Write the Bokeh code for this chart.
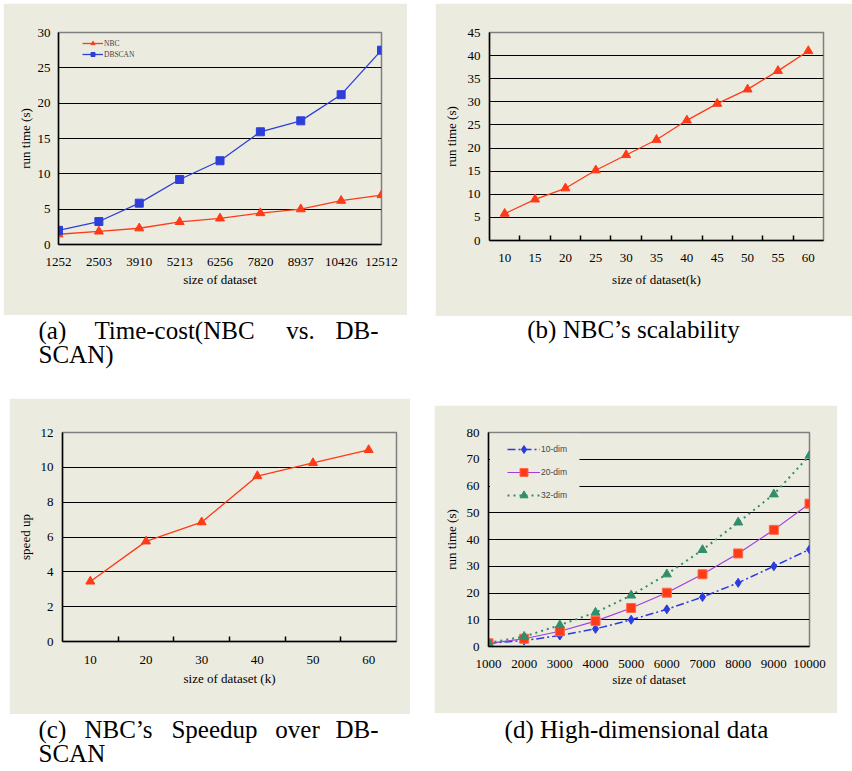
from bokeh.plotting import figure
from bokeh.models import Range1d, FixedTicker, Legend, LegendItem, BoxAnnotation
from bokeh.layouts import column, row
from bokeh.core.properties import value
from bokeh.embed import file_html
from bokeh.resources import INLINE

# ---------------- data ----------------
a_sizes = ["1252", "2503", "3910", "5213", "6256", "7820", "8937", "10426", "12512"]
a_nbc = [1.45, 1.85, 2.3, 3.2, 3.7, 4.45, 5.0, 6.2, 7.0]
a_dbscan = [2.0, 3.25, 5.85, 9.2, 11.85, 15.95, 17.5, 21.2, 27.5]
a_yticks = [0, 5, 10, 15, 20, 25, 30]

b_sizes = [10, 15, 20, 25, 30, 35, 40, 45, 50, 55, 60]
b_time = [5.8, 8.9, 11.3, 15.2, 18.5, 21.8, 26.0, 29.6, 32.7, 36.7, 41.0]
b_yticks = [0, 5, 10, 15, 20, 25, 30, 35, 40, 45]

c_sizes = [10, 20, 30, 40, 50, 60]
c_speedup = [3.45, 5.75, 6.85, 9.5, 10.25, 11.0]
c_yticks = [0, 2, 4, 6, 8, 10, 12]

d_sizes = [1000, 2000, 3000, 4000, 5000, 6000, 7000, 8000, 9000, 10000]
d_10dim = [1.2, 2.2, 4.1, 6.6, 10.0, 13.9, 18.5, 23.8, 30.0, 36.3]
d_20dim = [1.2, 2.9, 5.7, 9.5, 14.4, 20.1, 27.0, 34.8, 43.6, 53.4]
d_32dim = [1.4, 3.7, 8.0, 12.7, 19.1, 27.0, 36.1, 46.4, 56.9, 71.4]
d_yticks = [0, 10, 20, 30, 40, 50, 60, 70, 80]

# ---------------- styles ----------------
BG = "#ecebe0"
SERIF = "Liberation Serif"
RED = "#ff3a17"
BLUE = "#2d3fd8"
BLUE_D = "#2a3be0"
PURPLE = "#a43de0"
GREEN = "#2f8f6c"
CAP_SIZE = "25px"


def panel(w, h, xr, yr, mb, yticks, xlabel, ylabel, tick_std, lab_std, ytick_std, ylab_std):
    p = figure(width=w, height=h, x_range=xr, y_range=yr, output_backend="svg",
               toolbar_location=None, title=None, frame_align=False,
               min_border_left=mb[0], min_border_right=mb[1],
               min_border_top=mb[2], min_border_bottom=mb[3])
    p.border_fill_color = BG
    p.background_fill_color = BG
    p.outline_line_color = "#808080"
    p.outline_line_width = 1.5
    p.xgrid.visible = False
    p.yaxis.ticker = FixedTicker(ticks=yticks)
    p.ygrid.ticker = FixedTicker(ticks=yticks[1:-1])
    p.ygrid.grid_line_color = "black"
    p.ygrid.grid_line_width = 1.2
    for ax in p.axis:
        ax.axis_line_color = "black"
        ax.axis_line_width = 1.5
        ax.major_tick_in = 0
        ax.major_tick_out = 0
        ax.minor_tick_in = 0
        ax.minor_tick_out = 0
        ax.major_label_text_font = SERIF
        ax.major_label_text_font_size = "13px"
        ax.major_label_text_color = "black"
        ax.axis_label_text_font = SERIF
        ax.axis_label_text_font_size = "13px"
        ax.axis_label_text_font_style = "normal"
        ax.axis_label_text_color = "black"
    p.xaxis.axis_label = xlabel
    p.yaxis.axis_label = ylabel
    p.xaxis.major_label_standoff = tick_std
    p.xaxis.axis_label_standoff = lab_std
    p.yaxis.major_label_standoff = ytick_std
    p.yaxis.axis_label_standoff = ylab_std
    return p


def caption(w, h, xs, ys, texts, aligns):
    p = figure(width=w, height=h, x_range=Range1d(0, w), y_range=Range1d(h, 0),
               output_backend="svg", toolbar_location=None, title=None, frame_align=False,
               min_border=0, x_axis_location=None, y_axis_location=None)
    p.grid.visible = False
    p.outline_line_color = None
    p.border_fill_color = "white"
    p.background_fill_color = "white"
    for x, y, t, a in zip(xs, ys, texts, aligns):
        p.text(x=[x], y=[y], text=[t], text_align=a, text_baseline="middle",
               text_font=value(SERIF), text_font_size=CAP_SIZE, text_color="black")
    return p


# ---------------- (a) ----------------
a_x = list(range(len(a_sizes)))
fa = panel(404, 312, Range1d(0, len(a_sizes) - 1), Range1d(0, 30), (55, 26, 29, 71),
           a_yticks, "size of dataset", "run time (s)", 13, 3, 8, 2)
fa.xaxis.ticker = FixedTicker(ticks=a_x)
fa.xaxis.major_label_overrides = {i: s for i, s in zip(a_x, a_sizes)}
la1 = fa.line(a_x, a_nbc, line_color=RED, line_width=1.3)
sa1 = fa.scatter(a_x, a_nbc, marker="triangle", size=9, fill_color=RED, line_color=RED)
la2 = fa.line(a_x, a_dbscan, line_color=BLUE, line_width=1.3)
sa2 = fa.scatter(a_x, a_dbscan, marker="square", size=8, fill_color=BLUE, line_color=BLUE)
lega = Legend(items=[LegendItem(label="NBC", renderers=[la1, sa1]),
                     LegendItem(label="DBSCAN", renderers=[la2, sa2])],
              location=(24, 185), padding=0, margin=0, spacing=1,
              glyph_width=21, glyph_height=10, label_standoff=1,
              label_text_font="Liberation Sans Narrow", label_text_font_size="7.5px",
              border_line_alpha=0, background_fill_alpha=0)
fa.add_layout(lega)

# ---------------- (b) ----------------
fb = panel(417, 313, Range1d(7.5, 62.5), Range1d(0, 45), (54, 29, 29, 76),
           b_yticks, "size of dataset(k)", "run time (s)", 13, 7, 9, 6)
fb.xaxis.ticker = FixedTicker(ticks=b_sizes,
                              minor_ticks=[(b_sizes[i] + b_sizes[i + 1]) / 2 for i in range(len(b_sizes) - 1)])
fb.xaxis.minor_tick_in = 5
fb.xaxis.minor_tick_line_color = "black"
fb.xaxis.minor_tick_line_width = 1.5
fb.line(b_sizes, b_time, line_color=RED, line_width=1.3)
fb.scatter(b_sizes, b_time, marker="triangle", size=9, fill_color=RED, line_color=RED)

# ---------------- (c) ----------------
fc = panel(401, 316, Range1d(5, 65), Range1d(0, 12), (53, 14, 34, 73),
           c_yticks, "size of dataset (k)", "speed up", 14, 4, 9, 5)
fc.xaxis.ticker = FixedTicker(ticks=c_sizes,
                              minor_ticks=[(c_sizes[i] + c_sizes[i + 1]) / 2 for i in range(len(c_sizes) - 1)])
fc.xaxis.minor_tick_in = 5
fc.xaxis.minor_tick_line_color = "black"
fc.xaxis.minor_tick_line_width = 1.5
fc.line(c_sizes, c_speedup, line_color=RED, line_width=1.3)
fc.scatter(c_sizes, c_speedup, marker="triangle", size=9, fill_color=RED, line_color=RED)
fc.margin = (0, 0, 0, 6)

# ---------------- (d) ----------------
fd = panel(403, 308, Range1d(d_sizes[0], d_sizes[-1]), Range1d(0, 80), (54, 28, 27, 67),
           d_yticks, "size of dataset", "run time (s)", 13, 1, 9, 5)
fd.xaxis.ticker = FixedTicker(ticks=d_sizes)
fd.add_layout(BoxAnnotation(left=1040, right=3550, bottom=54, top=79.5,
                            fill_color=BG, fill_alpha=1, line_alpha=0))
ld1 = fd.line(d_sizes, d_10dim, line_color=BLUE_D, line_width=1.5, line_dash="8 3 2 3")
sd1 = fd.scatter(d_sizes, d_10dim, marker="diamond", size=9, fill_color=BLUE_D, line_color=BLUE_D)
ld2 = fd.line(d_sizes, d_20dim, line_color=PURPLE, line_width=1.2)
sd2 = fd.scatter(d_sizes, d_20dim, marker="square", size=9, fill_color=RED, line_color="#ff6a4a")
ld3 = fd.line(d_sizes, d_32dim, line_color=GREEN, line_width=2, line_dash="2 4")
sd3 = fd.scatter(d_sizes, d_32dim, marker="triangle", size=9, fill_color=GREEN, line_color=GREEN)
legd = Legend(items=[LegendItem(label="10-dim", renderers=[ld1, sd1]),
                     LegendItem(label="20-dim", renderers=[ld2, sd2]),
                     LegendItem(label="32-dim", renderers=[ld3, sd3])],
              location=(19, 141), padding=0, margin=0, spacing=3,
              glyph_width=33, glyph_height=20, label_standoff=1,
              label_text_font="Liberation Sans", label_text_font_size="8.5px",
              border_line_alpha=0, background_fill_alpha=0)
fd.add_layout(legd)

# ---------------- captions ----------------
capa = caption(410, 83, [35, 171, 297, 375, 35], [15, 15, 15, 15, 39],
               ["(a)", "Time-cost(NBC", "vs.", "DB-", "SCAN)"],
               ["left", "center", "center", "right", "left"])
capb = caption(417, 89, [198], [13], ["(b) NBC\u2019s scalability"], ["center"])
capb.margin = (0, 0, 0, 22)
fb.margin = (0, 0, 0, 22)
capc = caption(410, 52, [35, 115, 211, 294, 375, 35], [15, 15, 15, 15, 15, 39],
               ["(c)", "NBC\u2019s", "Speedup", "over", "DB-", "SCAN"],
               ["left", "center", "center", "center", "right", "left"])
capd = caption(403, 34, [202], [16], ["(d) High-dimensional data"], ["center"])
capd.margin = (0, 0, 0, 21)
fd.margin = (0, 0, 0, 21)

left = column(fa, capa, fc, capc, spacing=0)
right = column(fb, capb, fd, capd, spacing=0)
root = row(left, right, spacing=0, margin=(3, 0, 0, 3))

open("out.html", "w").write(file_html(root, INLINE))
